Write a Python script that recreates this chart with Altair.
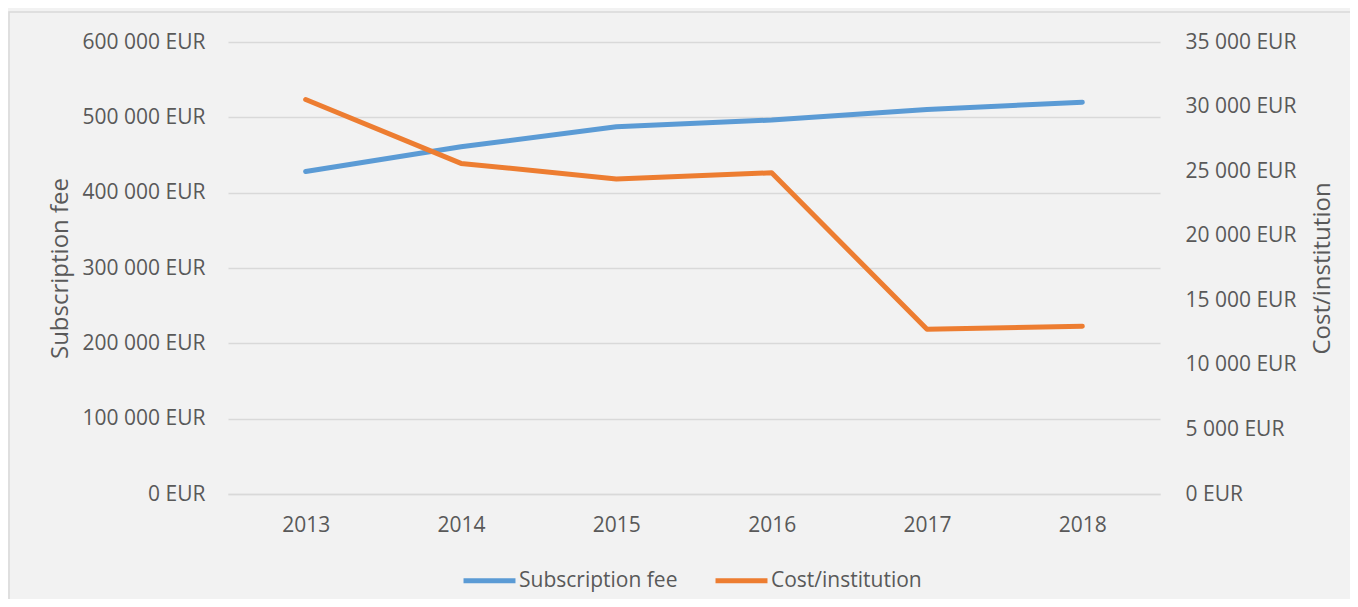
import altair as alt
import pandas as pd

years = ["2013", "2014", "2015", "2016", "2017", "2018"]
subscription_fee = [428000, 461000, 487500, 496500, 510500, 520000]
cost_per_institution = [30550, 25600, 24400, 24870, 12760, 12990]
left_ticks = [0, 100000, 200000, 300000, 400000, 500000, 600000]
right_ticks = [0, 5000, 10000, 15000, 20000, 25000, 30000, 35000]
series_names = ["Subscription fee", "Cost/institution"]
series_colors = ["#5b9bd5", "#ed7d31"]

df = pd.DataFrame({"year": years, "fee": subscription_fee, "cost": cost_per_institution})

FONT = "Open Sans"
TXT = "#595959"
GRID = "#d9d9d9"
FS = 21
TFS = 24

legend = alt.Legend(
    title=None, orient="none", direction="horizontal",
    legendX=233, legendY=510,
    symbolType="stroke", symbolStrokeWidth=5, symbolSize=2700,
    labelFontSize=FS, labelFont=FONT, labelColor=TXT, labelOffset=1,
    columnPadding=27, padding=0,
)
color = alt.Color("series:N", scale=alt.Scale(domain=series_names, range=series_colors),
                  legend=legend, sort=series_names)

xenc = alt.X(
    "year:N", sort=years,
    scale=alt.Scale(type="point", padding=0.5),
    axis=alt.Axis(title=None, labelAngle=0, ticks=False, domainColor=GRID,
                  domainWidth=1.5, labelPadding=20, grid=False),
)

base = alt.Chart(df)

fee_line = base.transform_calculate(series=f"'{series_names[0]}'").mark_line(
    strokeWidth=5, strokeCap="round", strokeJoin="round").encode(
    x=xenc,
    y=alt.Y("fee:Q", scale=alt.Scale(domain=[0, 600000], nice=False),
            axis=alt.Axis(title="Subscription fee", values=left_ticks, ticks=False, domain=False,
                          grid=True, gridColor=GRID, gridWidth=1.5, labelPadding=23,
                          labelExpr="format(datum.value, ',d') + ' EUR'",
                          titleAngle=270, titleX=-168, titleY=226, titleBaseline="middle",
                          titleAlign="center")),
    color=color,
)

cost_line = base.transform_calculate(series=f"'{series_names[1]}'").mark_line(
    strokeWidth=5, strokeCap="round", strokeJoin="round").encode(
    x=xenc,
    y=alt.Y("cost:Q", scale=alt.Scale(domain=[0, 35000], nice=False),
            axis=alt.Axis(title="Cost/institution", orient="right", values=right_ticks, ticks=False,
                          domain=False, grid=False, labelPadding=25,
                          labelExpr="format(datum.value, ',d') + ' EUR'",
                          titleAngle=270, titleX=162, titleY=226, titleBaseline="middle",
                          titleAlign="center")),
    color=color,
)

frame = alt.Chart(pd.DataFrame({"a": [0]})).mark_rect(
    fill=None, stroke="#d9d9d9", strokeWidth=1.5, clip=False
).encode(
    x=alt.value(-219), x2=alt.value(1200), y=alt.value(-30), y2=alt.value(700)
)

chart = alt.layer(frame, fee_line, cost_line).resolve_scale(
    y="independent"
).properties(
    width=932, height=452,
    autosize=alt.AutoSizeParams(type="none"),
    padding={"left": 220, "top": 34, "right": 190, "bottom": 105},
    background="#f2f2f2",
).configure(
    locale={"number": {"decimal": ",", "thousands": " ", "grouping": [3], "currency": ["", " EUR"]}},
).configure_view(
    stroke=None,
).configure_axis(
    labelFont=FONT, labelFontSize=FS, labelColor=TXT,
    titleFont=FONT, titleFontSize=TFS, titleColor=TXT, titleFontWeight="normal",
)

chart.save("out.html", embed_options={"renderer": "svg", "actions": False})
